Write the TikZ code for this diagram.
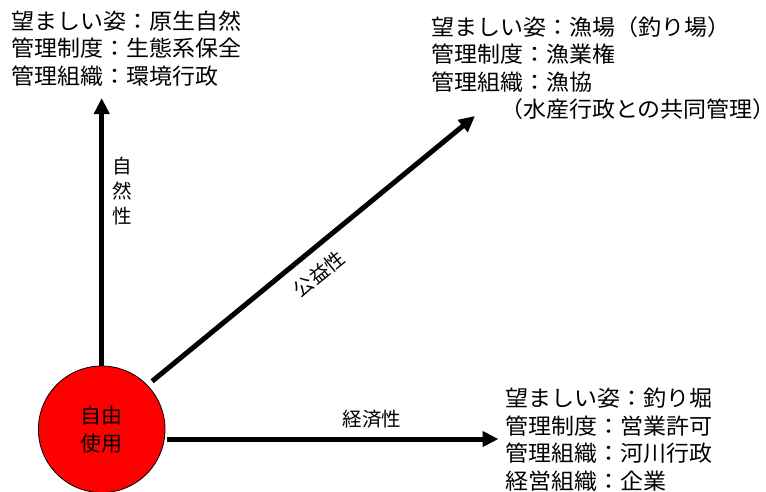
\documentclass[tikz,border=0pt]{standalone}
\usepackage{fontspec}
\newfontfamily\jp[FakeStretch=1.045]{Noto Sans CJK JP}
\newfontfamily\jplabel{Noto Sans CJK JP}
\usetikzlibrary{arrows.meta}
\begin{document}
\begin{tikzpicture}[x=1pt,y=-1pt,
  info/.style={anchor=north west,inner sep=0pt,align=left,font=\jp\fontsize{22}{27.6}\selectfont},
  axislabel/.style={inner sep=0pt,font=\jplabel\fontsize{19.5}{25}\selectfont},
  axis/.style={line width=5pt,-{Triangle[length=16pt,width=15pt]}},
  hub/.style={circle,draw=black,line width=0.8pt,fill=red,minimum size=126.6pt,inner sep=0pt,align=center,font=\jplabel\fontsize{21}{28}\selectfont}]
\useasboundingbox (0,0) rectangle (766,491);
\node[hub] (c) at (101.7,429.3) {自由\\使用};
\coordinate (tN) at (101.7,98);
\coordinate (tD) at (475,116);
\coordinate (tE) at (498.5,439);
\draw[axis] (c.north) -- (tN);
\draw[axis,shorten <=6pt] (c.44) -- (tD);
\draw[axis,shorten <=1.5pt] (c.east |- tE) -- (tE);
\node[axislabel,align=center] (lN) at (122,191) {自\\然\\性};
\node[axislabel,rotate=39] (lD) at (319,274) {公益性};
\node[axislabel] (lE) at (372,419) {経済性};
\node[info] (bN) at (11,10.5) {望ましい姿：原生自然\\管理制度：生態系保全\\管理組織：環境行政};
\node[info] (bD) at (431,16) {望ましい姿：漁場（釣り場）\\管理制度：漁業権\\管理組織：漁協\\　　　（水産行政との共同管理）};
\node[info] (bE) at (505,388) {望ましい姿：釣り堀\\管理制度：営業許可\\管理組織：河川行政\\経営組織：企業};
\end{tikzpicture}
\end{document}
